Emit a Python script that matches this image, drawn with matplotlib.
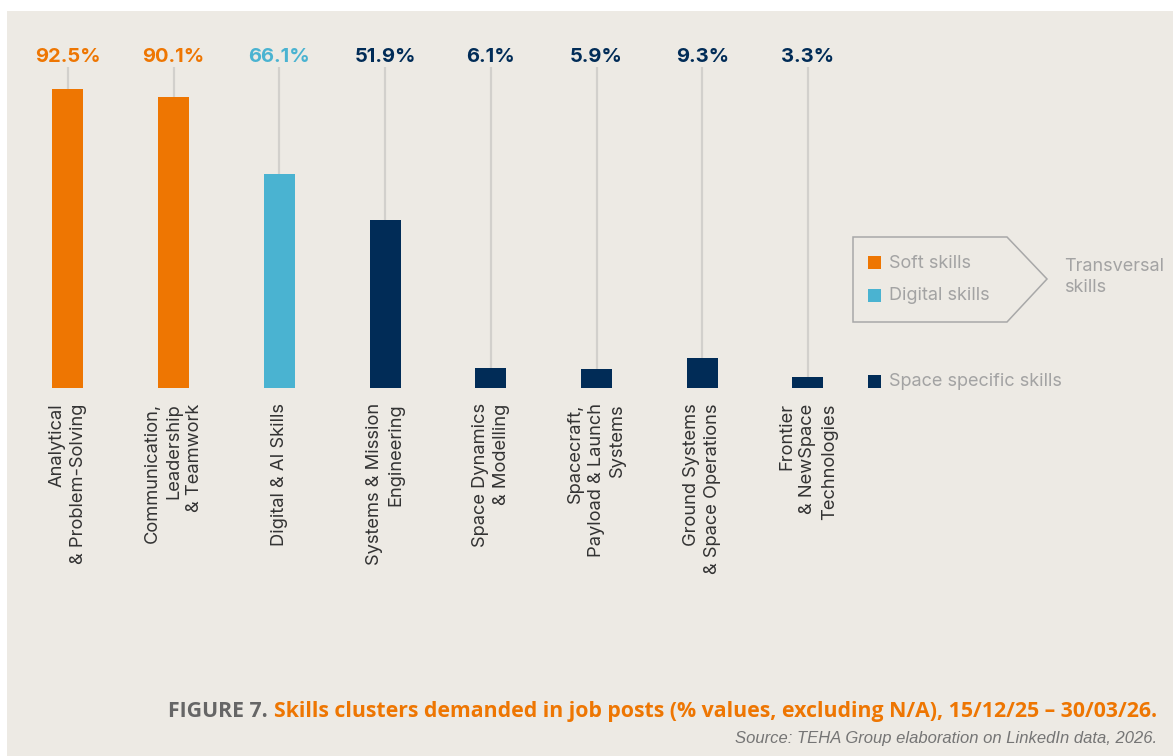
import matplotlib
matplotlib.use("Agg")
import matplotlib.pyplot as plt
from matplotlib.patches import Rectangle, Polygon

# --- data -----------------------------------------------------------------
categories = [
    "Analytical\n& Problem-Solving",
    "Communication,\nLeadership\n& Teamwork",
    "Digital & AI Skills",
    "Systems & Mission\nEngineering",
    "Space Dynamics\n& Modelling",
    "Spacecraft,\nPayload & Launch\nSystems",
    "Ground Systems\n& Space Operations",
    "Frontier\n& NewSpace\nTechnologies",
]
values = [92.5, 90.1, 66.1, 51.9, 6.1, 5.9, 9.3, 3.3]
groups = ["soft", "soft", "digital", "space", "space", "space", "space", "space"]

ORANGE = "#EE7602"
BLUE = "#4AB3D1"
NAVY = "#012C57"
group_colors = {"soft": ORANGE, "digital": BLUE, "space": NAVY}
legend_items = [("Soft skills", ORANGE), ("Digital skills", BLUE),
                ("Space specific skills", NAVY)]

BG = "#EDEAE4"
STEM = "#D2D0CC"
LEGEND_TXT = "#A3A3A3"

W, H = 1173, 756
fig = plt.figure(figsize=(W / 100, H / 100), dpi=100)
fig.patch.set_facecolor("white")


def fx(px):
    return px / W


def fy(py):
    return 1 - py / H


# beige panel
fig.add_artist(Rectangle((fx(7), 0), 1 - fx(7), fy(11), transform=fig.transFigure,
                         facecolor=BG, edgecolor="none", zorder=0))

FONT = ["Inter", "DejaVu Sans"]

# --- bars -----------------------------------------------------------------
ax = fig.add_axes([fx(15.1), fy(388), (860.8 - 15.1) / W, 323.5 / H])
ax.set_facecolor("none")
ax.set_xlim(-0.5, len(values) - 0.5)
ax.set_ylim(0, 100)
for s in ax.spines.values():
    s.set_visible(False)
ax.set_yticks([])

x = list(range(len(values)))
colors = [group_colors[g] for g in groups]
ax.vlines(x, 0, 99.2, color=STEM, lw=1.6, zorder=1)
ax.bar(x, values, width=0.293, color=colors, zorder=2)

for xi, v, c in zip(x, values, colors):
    ax.text(xi, 100.8, f"{v}%", ha="center", va="baseline", color=c,
            fontsize=14.5, fontweight="bold", family=FONT)

ax.set_xticks(x)
ax.set_xticklabels(categories, rotation=90, ha="center", va="top",
                   multialignment="right", fontsize=13.2, color="#333333",
                   family=FONT, linespacing=1.33)
ax.tick_params(axis="x", length=0, pad=11)

# --- legend ---------------------------------------------------------------
poly_px = [(853, 237), (1007, 237), (1047, 279), (1007, 322), (853, 322)]
fig.add_artist(Polygon([(fx(a), fy(b)) for a, b in poly_px], closed=True,
                       transform=fig.transFigure, facecolor="none",
                       edgecolor="#A8A8A8", lw=1.1))

for (label, col), yc in zip(legend_items, [263, 295, 381]):
    fig.add_artist(Rectangle((fx(868), fy(yc + 6.5)), 13 / W, 13 / H,
                             transform=fig.transFigure, facecolor=col,
                             edgecolor="none"))
    fig.text(fx(889), fy(yc), label, ha="left", va="center", fontsize=13,
             color=LEGEND_TXT, family=FONT)

fig.text(fx(1064), fy(277), "Transversal\nskills", ha="left", va="center",
         fontsize=13, color=LEGEND_TXT, family=FONT, linespacing=1.3)

# --- caption --------------------------------------------------------------
CAP_FONT = ["Open Sans", "DejaVu Sans"]
CAP_RIGHT, CAP_LEFT = 1157, 168
fig_label = "FIGURE 7."
caption = "Skills clusters demanded in job posts (% values, excluding N/A), 15/12/25 \u2013 30/03/26."

# size the caption so the whole line spans the available width
size = 15.0
title = fig.text(fx(CAP_RIGHT), fy(717), caption, ha="right", va="baseline",
                 fontsize=size, fontweight="bold", color=ORANGE, family=CAP_FONT)
label = fig.text(0, fy(717), fig_label, ha="right", va="baseline",
                 fontsize=size, fontweight="bold", color="#666666", family=CAP_FONT)
fig.canvas.draw()
total = title.get_window_extent().width + 6 + label.get_window_extent().width
size *= (CAP_RIGHT - CAP_LEFT) / total
title.set_fontsize(size)
label.set_fontsize(size)
fig.canvas.draw()
label.set_x(title.get_window_extent().x0 / W - fx(6))

fig.text(fx(CAP_RIGHT), fy(743), "Source: TEHA Group elaboration on LinkedIn data, 2026.",
         ha="right", va="baseline", fontsize=12, style="italic",
         color="#757575", family=["Liberation Sans", "DejaVu Sans"])

fig.savefig("out.png", dpi=100, facecolor=fig.get_facecolor())
